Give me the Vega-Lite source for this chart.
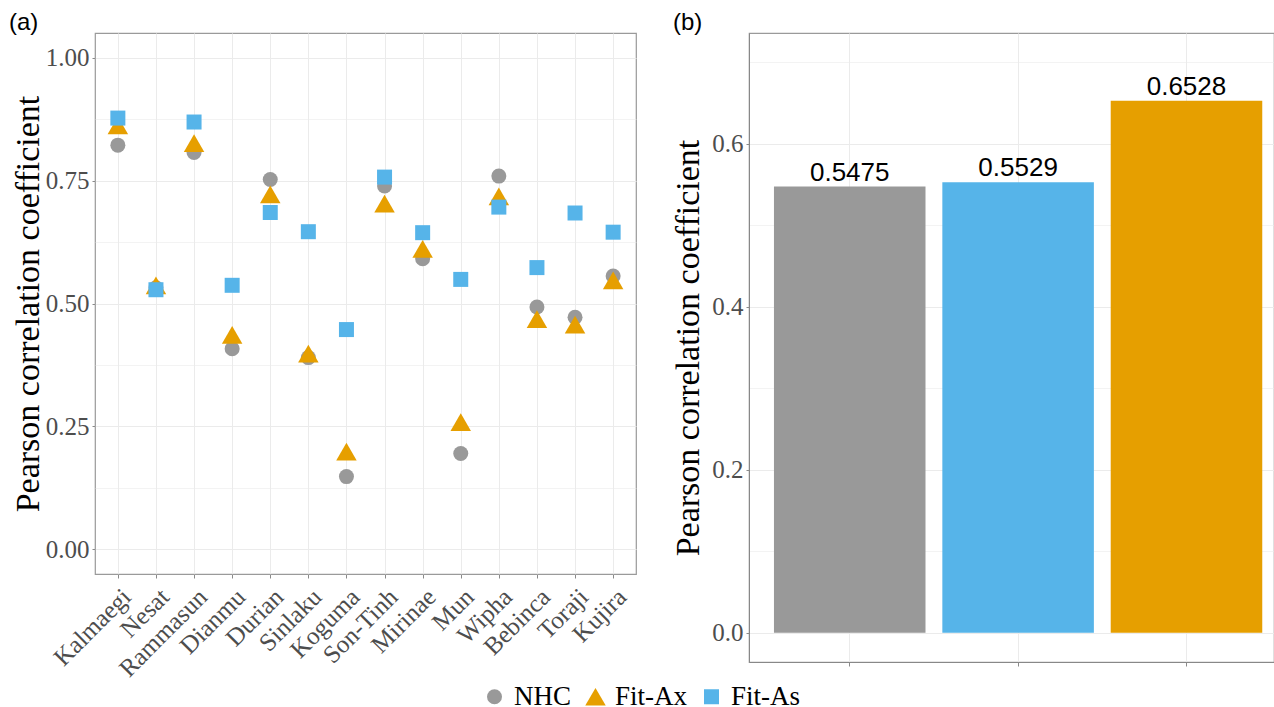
{
  "$schema": "https://vega.github.io/schema/vega-lite/v6.json",
  "padding": {"left": 8, "top": 10, "right": 0, "bottom": 0},
  "background": "white",
  "spacing": 113,
  "bounds": "flush",
  "datasets": {
    "pts": [
      {"storm": "Kalmaegi", "series": "NHC", "r": 0.822},
      {"storm": "Nesat", "series": "NHC", "r": 0.532},
      {"storm": "Rammasun", "series": "NHC", "r": 0.807},
      {"storm": "Dianmu", "series": "NHC", "r": 0.408},
      {"storm": "Durian", "series": "NHC", "r": 0.752},
      {"storm": "Sinlaku", "series": "NHC", "r": 0.390},
      {"storm": "Koguma", "series": "NHC", "r": 0.148},
      {"storm": "Son-Tinh", "series": "NHC", "r": 0.739},
      {"storm": "Mirinae", "series": "NHC", "r": 0.591},
      {"storm": "Mun", "series": "NHC", "r": 0.195},
      {"storm": "Wipha", "series": "NHC", "r": 0.759},
      {"storm": "Bebinca", "series": "NHC", "r": 0.493},
      {"storm": "Toraji", "series": "NHC", "r": 0.472},
      {"storm": "Kujira", "series": "NHC", "r": 0.556},
      {"storm": "Kalmaegi", "series": "Fit-Ax", "r": 0.862},
      {"storm": "Nesat", "series": "Fit-Ax", "r": 0.537},
      {"storm": "Rammasun", "series": "Fit-Ax", "r": 0.826},
      {"storm": "Dianmu", "series": "Fit-Ax", "r": 0.436},
      {"storm": "Durian", "series": "Fit-Ax", "r": 0.722},
      {"storm": "Sinlaku", "series": "Fit-Ax", "r": 0.398},
      {"storm": "Koguma", "series": "Fit-Ax", "r": 0.199},
      {"storm": "Son-Tinh", "series": "Fit-Ax", "r": 0.703},
      {"storm": "Mirinae", "series": "Fit-Ax", "r": 0.611},
      {"storm": "Mun", "series": "Fit-Ax", "r": 0.259},
      {"storm": "Wipha", "series": "Fit-Ax", "r": 0.718},
      {"storm": "Bebinca", "series": "Fit-Ax", "r": 0.468},
      {"storm": "Toraji", "series": "Fit-Ax", "r": 0.457},
      {"storm": "Kujira", "series": "Fit-Ax", "r": 0.547},
      {"storm": "Kalmaegi", "series": "Fit-As", "r": 0.877},
      {"storm": "Nesat", "series": "Fit-As", "r": 0.528},
      {"storm": "Rammasun", "series": "Fit-As", "r": 0.869},
      {"storm": "Dianmu", "series": "Fit-As", "r": 0.537},
      {"storm": "Durian", "series": "Fit-As", "r": 0.685},
      {"storm": "Sinlaku", "series": "Fit-As", "r": 0.646},
      {"storm": "Koguma", "series": "Fit-As", "r": 0.447},
      {"storm": "Son-Tinh", "series": "Fit-As", "r": 0.757},
      {"storm": "Mirinae", "series": "Fit-As", "r": 0.644},
      {"storm": "Mun", "series": "Fit-As", "r": 0.549},
      {"storm": "Wipha", "series": "Fit-As", "r": 0.696},
      {"storm": "Bebinca", "series": "Fit-As", "r": 0.573},
      {"storm": "Toraji", "series": "Fit-As", "r": 0.684},
      {"storm": "Kujira", "series": "Fit-As", "r": 0.645}
    ],
    "bars": [
      {"series": "NHC", "r": 0.5475},
      {"series": "Fit-As", "r": 0.5529},
      {"series": "Fit-Ax", "r": 0.6528}
    ]
  },
  "hconcat": [
    {
      "width": 541,
      "height": 541,
      "title": {"text": "(a)", "anchor": "start", "frame": "group", "dx": -86, "offset": -21, "baseline": "alphabetic", "fontSize": 24, "font": "Liberation Sans", "fontWeight": "normal", "color": "black"},
      "data": {"name": "pts"},
      "mark": {"type": "point", "filled": true, "opacity": 1},
      "encoding": {
        "x": {
          "field": "storm", "type": "nominal",
          "sort": ["Kalmaegi", "Nesat", "Rammasun", "Dianmu", "Durian", "Sinlaku", "Koguma", "Son-Tinh", "Mirinae", "Mun", "Wipha", "Bebinca", "Toraji", "Kujira"],
          "scale": {"type": "point", "padding": 0.6},
          "axis": {"title": null, "labelAngle": -45, "labelAlign": "right", "labelBaseline": "top", "labelPadding": 6, "labelFontSize": 25, "tickSize": 4, "grid": true}
        },
        "y": {
          "field": "r", "type": "quantitative",
          "scale": {"domain": [-0.05, 1.05], "nice": false, "zero": false},
          "axis": {
            "title": "Pearson correlation coefficient",
            "titlePadding": 0,
            "values": [0, 0.125, 0.25, 0.375, 0.5, 0.625, 0.75, 0.875, 1.0],
            "labelExpr": "round(datum.value*8) % 2 == 0 ? format(datum.value, '.2f') : ''",
            "tickOpacity": {"condition": {"test": "round(datum.value*8) % 2 == 1", "value": 0}, "value": 1},
            "gridWidth": {"condition": {"test": "round(datum.value*8) % 2 == 1", "value": 0.6}, "value": 1}
          }
        },
        "color": {
          "field": "series", "type": "nominal",
          "scale": {"domain": ["NHC", "Fit-Ax", "Fit-As"], "range": ["#999999", "#E69F00", "#56B4E9"]},
          "legend": {"orient": "none", "legendX": 386, "legendY": 650, "direction": "horizontal", "title": null}
        },
        "shape": {
          "field": "series", "type": "nominal",
          "scale": {"domain": ["NHC", "Fit-Ax", "Fit-As"], "range": ["circle", "triangle-up", "square"]},
          "legend": {"orient": "none", "legendX": 386, "legendY": 650, "direction": "horizontal", "title": null}
        },
        "size": {
          "field": "series", "type": "nominal",
          "scale": {"type": "ordinal", "domain": ["NHC", "Fit-Ax", "Fit-As"], "range": [225, 420, 225]},
          "legend": {"orient": "none", "legendX": 386, "legendY": 650, "direction": "horizontal", "title": null}
        }
      }
    },
    {
      "width": 525,
      "height": 629,
      "title": {"text": "(b)", "anchor": "start", "frame": "group", "dx": -76, "offset": -21, "baseline": "alphabetic", "fontSize": 24, "font": "Liberation Sans", "fontWeight": "normal", "color": "black"},
      "data": {"name": "bars"},
      "encoding": {
        "x": {
          "field": "series", "type": "nominal",
          "sort": ["NHC", "Fit-As", "Fit-Ax"],
          "scale": {"paddingInner": 0.1, "paddingOuter": 0.109, "align": 0.68},
          "axis": {"title": null, "labels": false, "tickSize": 4, "grid": true, "bandPosition": 0.5, "domain": true, "domainColor": "#888888"}
        },
        "y": {
          "field": "r", "type": "quantitative",
          "scale": {"domain": [-0.036, 0.736], "nice": false, "zero": false},
          "axis": {
            "title": "Pearson correlation coefficient",
            "titlePadding": 6,
            "values": [0, 0.1, 0.2, 0.3, 0.4, 0.5, 0.6, 0.7],
            "labelExpr": "round(datum.value*10) % 2 == 0 ? format(datum.value, '.1f') : ''",
            "tickOpacity": {"condition": {"test": "round(datum.value*10) % 2 == 1", "value": 0}, "value": 1},
            "gridWidth": {"condition": {"test": "round(datum.value*10) % 2 == 1", "value": 0.6}, "value": 1},
            "domain": true, "domainColor": "#888888"
          }
        }
      },
      "layer": [
        {
          "mark": {"type": "bar"},
          "encoding": {
            "color": {"field": "series", "type": "nominal", "legend": null}
          }
        },
        {
          "mark": {"type": "text", "baseline": "bottom", "dy": -1, "font": "Liberation Sans", "fontSize": 26, "color": "black"},
          "encoding": {
            "text": {"field": "r", "type": "quantitative", "format": ".4f"}
          }
        }
      ]
    }
  ],
  "config": {
    "view": {"stroke": "#9a9a9a", "strokeWidth": 1.2},
    "axis": {
      "labelFont": "Liberation Serif",
      "labelFontSize": 25,
      "labelColor": "#4d4d4d",
      "titleFont": "Liberation Serif",
      "titleFontSize": 34,
      "titleFontWeight": "normal",
      "titleColor": "black",
      "domain": false,
      "gridColor": "#EBEBEB",
      "tickColor": "#8a8a8a",
      "tickSize": 3,
      "labelPadding": 3
    },
    "legend": {
      "labelFont": "Liberation Serif",
      "labelFontSize": 27,
      "labelColor": "black",
      "labelOffset": 6,
      "columnPadding": 10,
      "symbolStrokeWidth": 0
    }
  }
}
